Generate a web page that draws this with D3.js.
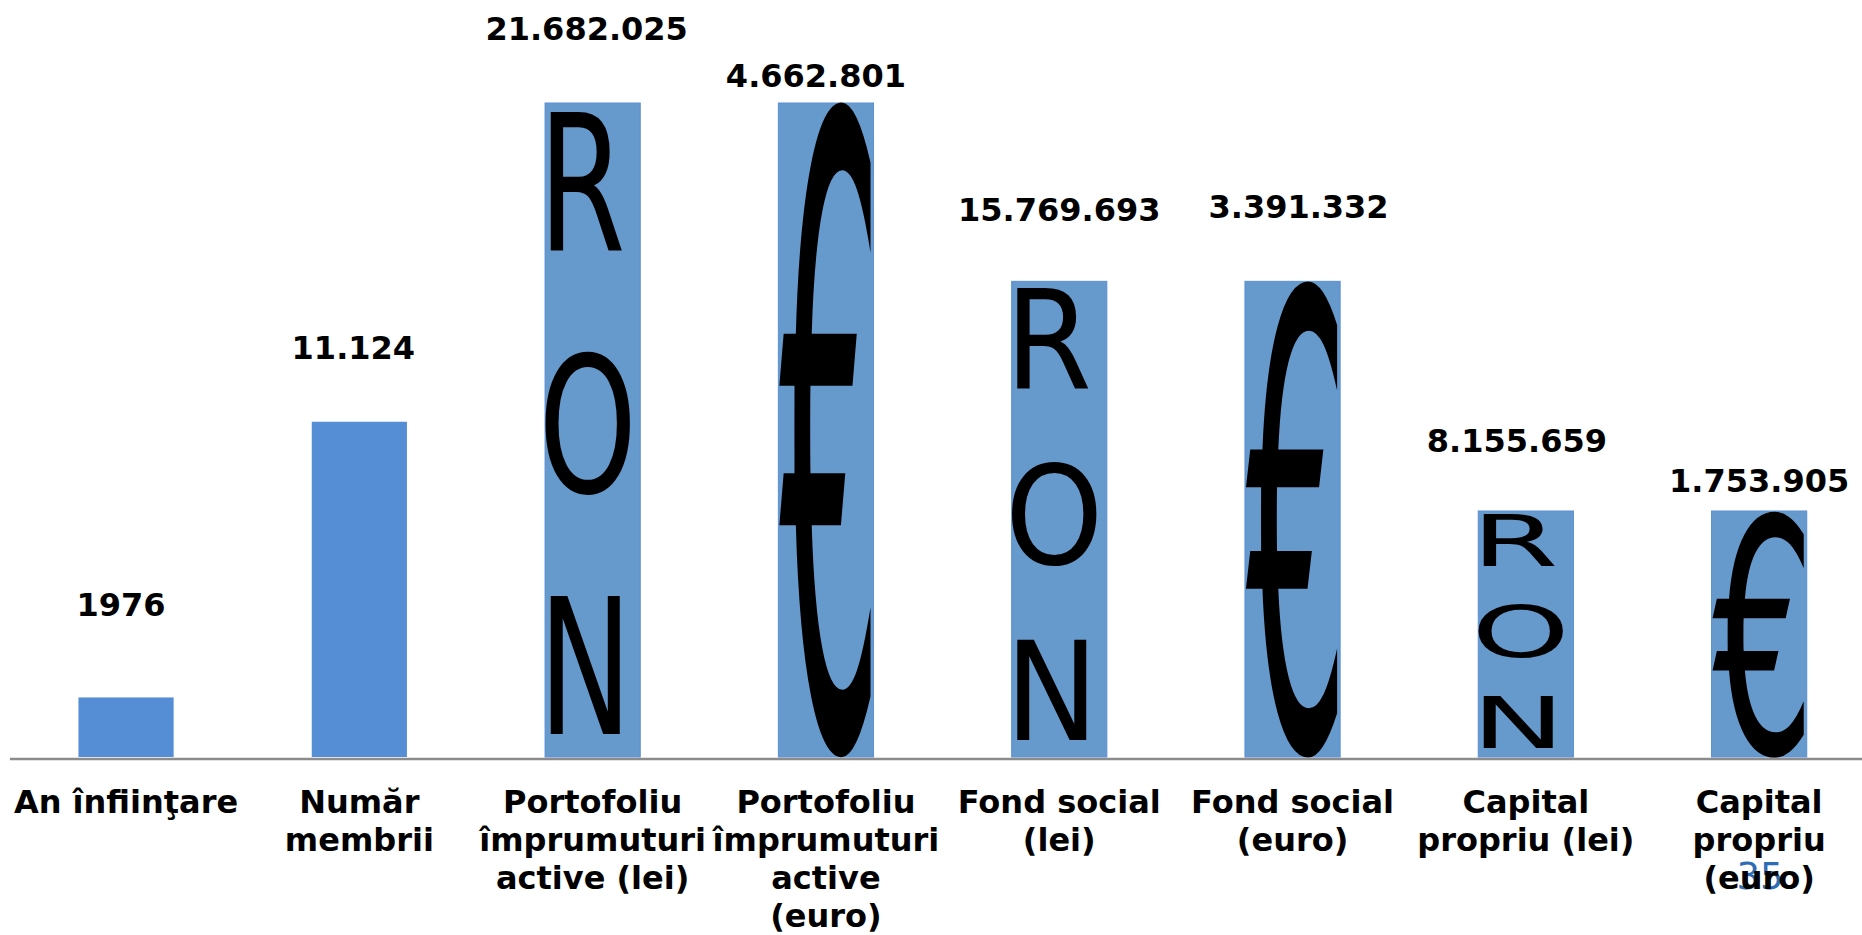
<!DOCTYPE html>
<html>
<head>
<meta charset="utf-8">
<script src="https://cdn.jsdelivr.net/npm/d3@7"></script>
<style>
  body { margin: 0; background: #fff; }
  svg { display: block; }
  text { font-family: "DejaVu Sans", Verdana, sans-serif; }
</style>
</head>
<body>
<div id="chart"></div>
<script>
let categories = ["An înfiinţare", "Număr membrii", "Portofoliu împrumuturi active (lei)",
    "Portofoliu împrumuturi active (euro)", "Fond social (lei)", "Fond social (euro)",
    "Capital propriu (lei)", "Capital propriu (euro)"];

// axis labels, broken the way the slide breaks them
let tickLines = [
    ["An înfiinţare"],
    ["Număr", "membrii"],
    ["Portofoliu", "împrumuturi", "active (lei)"],
    ["Portofoliu", "împrumuturi", "active", "(euro)"],
    ["Fond social", "(lei)"],
    ["Fond social", "(euro)"],
    ["Capital", "propriu (lei)"],
    ["Capital", "propriu", "(euro)"]
];

let values = [1976, 11124, 21682025, 4662801, 15769693, 3391332, 8155659, 1753905];

// the euro bars are drawn as tall as their lei twin
let barValues = [1976, 11124, 21682025, 21682025, 15769693, 15769693, 8155659, 8155659];
let barUnits = ["count", "count", "lei", "lei", "lei", "lei", "lei", "lei"];
let symbols = ["", "", "RON", "€", "RON", "€", "RON", "€"];

// labels were placed by hand on the slide
let labelLift = [81, 63, 63, 16, 60, 63, 59, 19];
let labelShift = [-5, -6, -6, -10, 0, 6, -9, 0];

let pageNumber = "35";

let width = 1862, height = 935;
let base = 757;

let svg = d3.select("#chart").append("svg")
    .attr("width", width)
    .attr("height", height);

svg.append("rect").attr("width", width).attr("height", height).attr("fill", "#fff");

let x = d3.scaleBand()
    .domain(categories)
    .range([9.4, 1875.8])
    .paddingInner(0.592)
    .paddingOuter(0.296);

let yScales = {
    lei: d3.scaleLinear().domain([0, 21682025]).range([base, 103]),
    count: d3.scaleLinear().domain([0, 21700]).range([base, 103])
};

let fmt = d3.formatLocale({decimal: ",", thousands: ".", grouping: [3], currency: ["", ""]}).format(",d");

let data = categories.map((c, i) => ({
    cat: c,
    value: values[i],
    top: yScales[barUnits[i]](barValues[i]),
    symbol: symbols[i],
    i: i
}));

// page number sits under the last label
svg.append("text")
    .attr("x", 1760)
    .attr("y", 889)
    .attr("text-anchor", "middle")
    .attr("font-size", 37)
    .attr("fill", "#2E6DB4")
    .text(pageNumber);

// bars
svg.selectAll("rect.bar")
    .data(data)
    .enter()
    .append("rect")
    .attr("class", "bar")
    .attr("x", d => x(d.cat))
    .attr("y", d => d.top)
    .attr("width", x.bandwidth())
    .attr("height", d => base - d.top)
    .attr("fill", d => d.symbol ? "#6699CC" : "#558ED5")
    .attr("stroke", d => d.symbol ? "#5B8FD8" : "none")
    .attr("stroke-width", 1);

// measure the ink of a glyph on a canvas, at 200px
function inkBox(ch, font) {
    let c = document.createElement("canvas");
    c.width = 400; c.height = 400;
    let ctx = c.getContext("2d");
    ctx.font = font;
    ctx.fillStyle = "#000";
    ctx.fillText(ch, 100, 300);
    let px = ctx.getImageData(0, 0, 400, 400).data;
    let x0 = 400, x1 = 0, y0 = 400, y1 = 0;
    for (let yy = 0; yy < 400; yy++) {
        for (let xx = 0; xx < 400; xx++) {
            if (px[(yy * 400 + xx) * 4 + 3] > 127) {
                if (xx < x0) x0 = xx;
                if (xx > x1) x1 = xx;
                if (yy < y0) y0 = yy;
                if (yy > y1) y1 = yy;
            }
        }
    }
    return {x0: x0 - 100, x1: x1 + 1 - 100, y0: y0 - 300, y1: y1 + 1 - 300};
}

let euroInk = inkBox("€", "200px 'DejaVu Sans'");

let pics = svg.append("g");

data.filter(d => d.symbol).forEach(function(d) {
    let left = x(d.cat);
    let bw = x.bandwidth();
    let H = base - d.top;

    if (d.symbol == "€") {
        // stretch the euro sign over the whole bar
        let L = left + 1, R = left + bw - 3;
        let T = d.top + 1.5, B = base + 1;
        let sx = (R - L) / (euroInk.x1 - euroInk.x0);
        let sy = (B - T) / (euroInk.y1 - euroInk.y0);
        pics.append("text")
            .attr("transform", `translate(${L - euroInk.x0 * sx},${T - euroInk.y0 * sy}) scale(${sx},${sy})`)
            .attr("font-size", 200)
            .attr("fill", "#000")
            .text("€");
    } else {
        // R, O, N stacked down the bar
        let sx = 1.25;
        let sy = 0.21 * H / 72.9;
        d.symbol.split("").forEach(function(letter, k) {
            let capTop = d.top + (0.015 + 0.37 * k) * H;
            pics.append("text")
                .attr("transform", `translate(${left - 0.07 * bw},${capTop + 0.21 * H}) scale(${sx},${sy})`)
                .attr("font-size", 100)
                .attr("fill", "#000")
                .text(letter);
        });
    }
});

// value labels
svg.selectAll("text.val")
    .data(data)
    .enter()
    .append("text")
    .attr("class", "val")
    .attr("x", d => x(d.cat) + x.bandwidth() / 2 + labelShift[d.i])
    .attr("y", d => d.top - labelLift[d.i])
    .attr("text-anchor", "middle")
    .attr("font-size", 32)
    .attr("font-weight", "bold")
    .attr("fill", "#000")
    .text(d => d.i == 0 ? String(d.value) : fmt(d.value));

// x axis
let xAxis = d3.axisBottom(x).tickSize(0).tickFormat("");

let axisG = svg.append("g")
    .attr("transform", `translate(0,${base + 1.5})`)
    .call(xAxis);

axisG.select(".domain")
    .attr("stroke", "#8C8C8C")
    .attr("stroke-width", 2.5);

axisG.selectAll(".tick text").remove();

axisG.selectAll(".tick")
    .append("text")
    .attr("text-anchor", "middle")
    .attr("font-size", 32)
    .attr("font-weight", "bold")
    .attr("fill", "#000")
    .each(function(c) {
        let lines = tickLines[categories.indexOf(c)];
        let t = d3.select(this);
        lines.forEach(function(line, k) {
            t.append("tspan")
                .attr("x", 0)
                .attr("y", 54 + k * 38.3)
                .text(line);
        });
    });
</script>
</body>
</html>
